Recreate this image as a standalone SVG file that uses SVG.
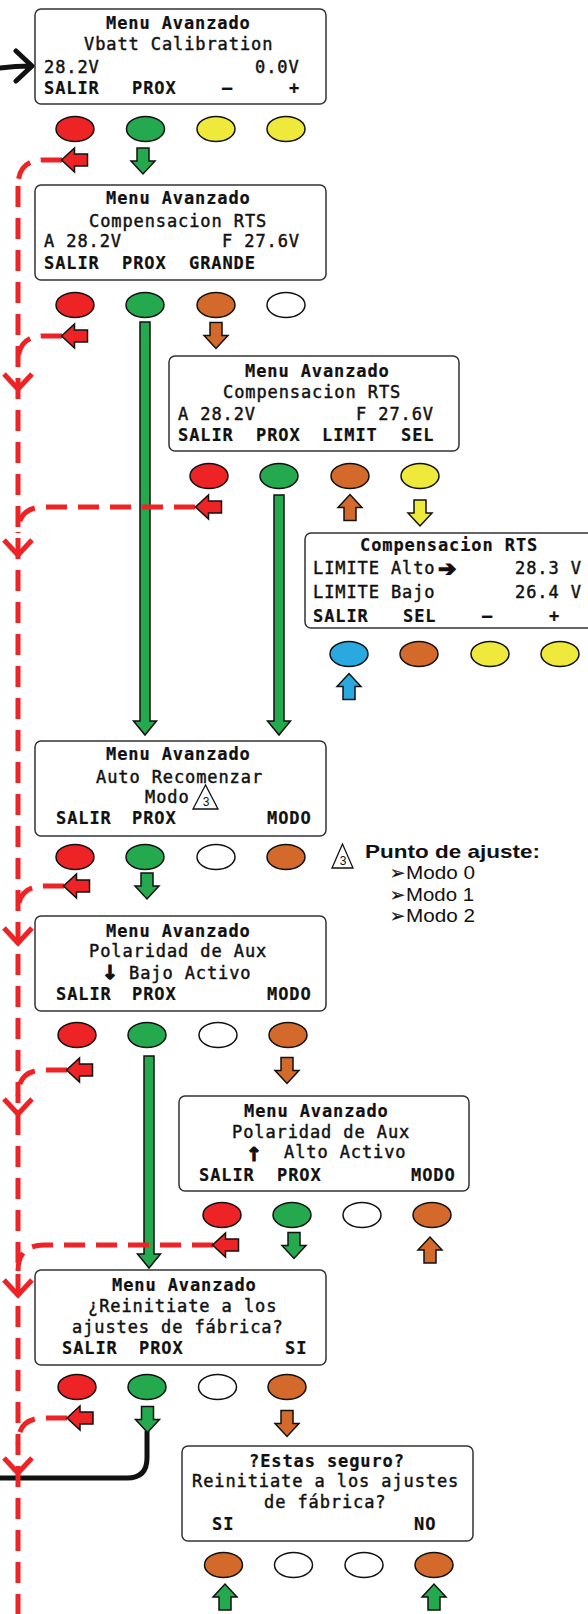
<svg xmlns="http://www.w3.org/2000/svg" width="588" height="1614" viewBox="0 0 588 1614">
<style>
.scr{fill:#fff;stroke:#333;stroke-width:1.5}
.t{font-family:"DejaVu Sans Mono",monospace;font-size:17px;letter-spacing:0.9px;fill:#111;stroke:#111;stroke-width:0.45px}
.b{font-weight:bold;stroke-width:0.2px}
.btn{stroke:#111;stroke-width:1.5}
.r{fill:#EE2326}.g{fill:#24A94F}.y{fill:#EEE93B}.o{fill:#D3692B}.w{fill:#fff}.bl{fill:#29A9E0}
.fa{stroke:#111;stroke-width:1.5}
.dash{fill:none;stroke:#EE2326;stroke-width:5;stroke-dasharray:21 11}
.chev{fill:none;stroke:#EE2326;stroke-width:5}
.blk{fill:none;stroke:#111;stroke-width:5;stroke-linecap:round;stroke-linejoin:round}
.note{font-family:"Liberation Sans",Arial,sans-serif;fill:#111}
.sym{font-family:"DejaVu Sans",sans-serif;font-weight:bold;fill:#111;stroke:#111;stroke-width:1.2px}
.bul{font-family:"DejaVu Sans",sans-serif;fill:#111;stroke:#111;stroke-width:0.3px}
.tri{fill:none;stroke:#111;stroke-width:1.3}
</style>
<defs>
<path id="fd" d="M-6,-13H6V0H12L0,13L-12,0H-6Z"/>
</defs>
<rect width="588" height="1614" fill="#fff"/>

<g id="panel1">
<rect class="scr" x="35" y="9" width="291" height="95" rx="6"/>
<text class="t b" x="106" y="29">Menu Avanzado</text>
<text class="t" x="84" y="50">Vbatt Calibration</text>
<text class="t" x="44" y="73">28.2V</text><text class="t" x="255" y="73">0.0V</text>
<text class="t b" y="94"><tspan x="44">SALIR</tspan><tspan x="132">PROX</tspan><tspan x="222">–</tspan><tspan x="289">+</tspan></text>
<ellipse class="btn r" cx="75" cy="129" rx="19" ry="12.5"/>
<ellipse class="btn g" cx="145.5" cy="129" rx="19" ry="12.5"/>
<ellipse class="btn y" cx="216" cy="129" rx="19" ry="12.5"/>
<ellipse class="btn y" cx="286" cy="129" rx="19" ry="12.5"/>
</g>

<g id="panel2">
<rect class="scr" x="35" y="185" width="291" height="95" rx="6"/>
<text class="t b" x="106" y="204">Menu Avanzado</text>
<text class="t" x="89" y="227">Compensacion RTS</text>
<text class="t" x="44" y="247">A 28.2V</text><text class="t" x="222" y="247">F 27.6V</text>
<text class="t b" y="269"><tspan x="44">SALIR</tspan><tspan x="122">PROX</tspan><tspan x="189">GRANDE</tspan></text>
<ellipse class="btn r" cx="75" cy="305" rx="19" ry="12.5"/>
<ellipse class="btn g" cx="145" cy="305" rx="19" ry="12.5"/>
<ellipse class="btn o" cx="216" cy="305" rx="19" ry="12.5"/>
<ellipse class="btn w" cx="286" cy="305" rx="19" ry="12.5"/>
</g>

<g id="panel3">
<rect class="scr" x="169" y="356" width="290" height="95" rx="6"/>
<text class="t b" x="245" y="377">Menu Avanzado</text>
<text class="t" x="223" y="398">Compensacion RTS</text>
<text class="t" x="178" y="420">A 28.2V</text><text class="t" x="356" y="420">F 27.6V</text>
<text class="t b" y="441"><tspan x="178">SALIR</tspan><tspan x="256">PROX</tspan><tspan x="322">LIMIT</tspan><tspan x="401">SEL</tspan></text>
<ellipse class="btn r" cx="209" cy="476" rx="19" ry="12.5"/>
<ellipse class="btn g" cx="279" cy="476" rx="19" ry="12.5"/>
<ellipse class="btn o" cx="350" cy="476" rx="19" ry="12.5"/>
<ellipse class="btn y" cx="420" cy="476" rx="19" ry="12.5"/>
</g>

<g id="panel4">
<rect class="scr" x="305" y="533" width="300" height="95" rx="6"/>
<text class="t b" x="360" y="551">Compensacion RTS</text>
<text class="t" x="313" y="574">LIMITE Alto</text><text class="sym" x="438" y="576" font-size="22">➔</text><text class="t" x="515" y="574">28.3 V</text>
<text class="t" x="313" y="598">LIMITE Bajo</text><text class="t" x="515" y="598">26.4 V</text>
<text class="t b" y="622"><tspan x="313">SALIR</tspan><tspan x="403">SEL</tspan><tspan x="482">–</tspan><tspan x="549">+</tspan></text>
<ellipse class="btn bl" cx="349" cy="654" rx="19" ry="12.5"/>
<ellipse class="btn o" cx="419" cy="654" rx="19" ry="12.5"/>
<ellipse class="btn y" cx="490" cy="654" rx="19" ry="12.5"/>
<ellipse class="btn y" cx="560" cy="654" rx="19" ry="12.5"/>
</g>

<g id="panel5">
<rect class="scr" x="35" y="741" width="291" height="95" rx="6"/>
<text class="t b" x="106" y="760">Menu Avanzado</text>
<text class="t" x="96" y="783">Auto Recomenzar</text>
<text class="t" x="145" y="803">Modo</text>
<polygon class="tri" points="205.5,785 193,809 218,809"/>
<text class="note" x="206" y="806" font-size="12" text-anchor="middle">3</text>
<text class="t b" y="824"><tspan x="56">SALIR</tspan><tspan x="132">PROX</tspan><tspan x="267">MODO</tspan></text>
<ellipse class="btn r" cx="75" cy="857" rx="19" ry="12.5"/>
<ellipse class="btn g" cx="145" cy="857" rx="19" ry="12.5"/>
<ellipse class="btn w" cx="216" cy="857" rx="19" ry="12.5"/>
<ellipse class="btn o" cx="286" cy="857" rx="19" ry="12.5"/>
</g>

<g id="note">
<polygon class="tri" points="342.5,844 332,868 353,868"/>
<text class="note" x="343" y="865" font-size="12" text-anchor="middle">3</text>
<text class="note" x="365" y="858" font-size="19" font-weight="bold" textLength="175" lengthAdjust="spacingAndGlyphs">Punto de ajuste:</text>
<text class="bul" x="390" y="879" font-size="18">➢</text><text class="note" x="406" y="879" font-size="18" textLength="69" lengthAdjust="spacingAndGlyphs">Modo 0</text>
<text class="bul" x="390" y="901" font-size="18">➢</text><text class="note" x="406" y="901" font-size="18" textLength="68" lengthAdjust="spacingAndGlyphs">Modo 1</text>
<text class="bul" x="390" y="922" font-size="18">➢</text><text class="note" x="406" y="922" font-size="18" textLength="69" lengthAdjust="spacingAndGlyphs">Modo 2</text>
</g>

<g id="panel6">
<rect class="scr" x="35" y="916" width="291" height="95" rx="6"/>
<text class="t b" x="106" y="937">Menu Avanzado</text>
<text class="t" x="89" y="957">Polaridad de Aux</text>
<text class="sym" x="102" y="979" font-size="19">↓</text>
<text class="t" x="129" y="979">Bajo Activo</text>
<text class="t b" y="1000"><tspan x="56">SALIR</tspan><tspan x="132">PROX</tspan><tspan x="267">MODO</tspan></text>
<ellipse class="btn r" cx="77" cy="1035" rx="19" ry="12.5"/>
<ellipse class="btn g" cx="147" cy="1035" rx="19" ry="12.5"/>
<ellipse class="btn w" cx="218" cy="1035" rx="19" ry="12.5"/>
<ellipse class="btn o" cx="288" cy="1035" rx="19" ry="12.5"/>
</g>

<g id="panel7">
<rect class="scr" x="179" y="1096" width="290" height="95" rx="6"/>
<text class="t b" x="244" y="1117">Menu Avanzado</text>
<text class="t" x="232" y="1138">Polaridad de Aux</text>
<text class="sym" x="246" y="1161" font-size="19">↑</text>
<text class="t" x="284" y="1158">Alto Activo</text>
<text class="t b" y="1181"><tspan x="199">SALIR</tspan><tspan x="277">PROX</tspan><tspan x="411">MODO</tspan></text>
<ellipse class="btn r" cx="222" cy="1215" rx="19" ry="12.5"/>
<ellipse class="btn g" cx="292" cy="1215" rx="19" ry="12.5"/>
<ellipse class="btn w" cx="362" cy="1215" rx="19" ry="12.5"/>
<ellipse class="btn o" cx="432" cy="1215" rx="19" ry="12.5"/>
</g>

<g id="panel8">
<rect class="scr" x="35" y="1270" width="291" height="95" rx="6"/>
<text class="t b" x="112" y="1291">Menu Avanzado</text>
<text class="t" x="88" y="1312">¿Reinitiate a los</text>
<text class="t" x="72" y="1333">ajustes de fábrica?</text>
<text class="t b" y="1354"><tspan x="62">SALIR</tspan><tspan x="139">PROX</tspan><tspan x="285">SI</tspan></text>
<ellipse class="btn r" cx="77" cy="1387" rx="19" ry="12.5"/>
<ellipse class="btn g" cx="147" cy="1387" rx="19" ry="12.5"/>
<ellipse class="btn w" cx="217.5" cy="1387" rx="19" ry="12.5"/>
<ellipse class="btn o" cx="287" cy="1387" rx="19" ry="12.5"/>
</g>

<g id="panel9">
<rect class="scr" x="182" y="1446" width="291" height="95" rx="6"/>
<text class="t b" x="249" y="1467">?Estas seguro?</text>
<text class="t" x="192" y="1487">Reinitiate a los ajustes</text>
<text class="t" x="264" y="1508">de fábrica?</text>
<text class="t b" y="1530"><tspan x="212">SI</tspan><tspan x="414">NO</tspan></text>
<ellipse class="btn o" cx="223.5" cy="1565" rx="19" ry="12.5"/>
<ellipse class="btn w" cx="293.5" cy="1565" rx="19" ry="12.5"/>
<ellipse class="btn w" cx="364" cy="1565" rx="19" ry="12.5"/>
<ellipse class="btn o" cx="434" cy="1565" rx="19" ry="12.5"/>
</g>

<g id="connectors">
<path class="blk" d="M0,68 Q15,66 31,66 M16,51 L32,66 L16,81"/>
<path class="blk" d="M147,1432 V1458 Q147,1478 127,1478 H-5"/>
<path class="fa g" d="M140,322 H150 V721 H156.5 L145,735 L133.5,721 H140 Z"/>
<path class="fa g" d="M274,495 H284 V721 H290.5 L279,735 L267.5,721 H274 Z"/>
<path class="fa g" d="M144,1056 H154 V1254 H160.5 L149,1268 L137.5,1254 H144 Z"/>
<use href="#fd" class="fa g" transform="translate(143,161)"/>
<use href="#fd" class="fa o" transform="translate(216,335.5)"/>
<use href="#fd" class="fa o" transform="translate(350,507.5) rotate(180)"/>
<use href="#fd" class="fa y" transform="translate(420,513)"/>
<use href="#fd" class="fa bl" transform="translate(349,686.5) rotate(180)"/>
<use href="#fd" class="fa g" transform="translate(147,886)"/>
<use href="#fd" class="fa o" transform="translate(287,1070.5)"/>
<use href="#fd" class="fa g" transform="translate(294,1245.5)"/>
<use href="#fd" class="fa o" transform="translate(430,1250) rotate(180)"/>
<use href="#fd" class="fa g" transform="translate(147.5,1419.5)"/>
<use href="#fd" class="fa o" transform="translate(287,1423.5)"/>
<use href="#fd" class="fa g" transform="translate(225,1597) rotate(180)"/>
<use href="#fd" class="fa g" transform="translate(434,1597) rotate(180)"/>
<path class="dash" d="M18,186 V1614"/>
<path class="dash" d="M62,160 H44 Q18,160 18,186"/>
<path class="dash" d="M62,336 H44 Q18,336 18,362"/>
<path class="dash" d="M195,507 H44 Q18,507 18,533"/>
<path class="dash" d="M64,886 H44 Q18,886 18,912"/>
<path class="dash" d="M67,1070 H44 Q18,1070 18,1096"/>
<path class="dash" d="M213,1245 H44 Q18,1245 18,1271"/>
<path class="dash" d="M67,1418 H44 Q18,1418 18,1444"/>
<path class="chev" d="M4,374 L18,389 L32,374 M4,540 L18,555 L32,540 M4,928 L18,943 L32,928 M4,1099 L18,1114 L32,1099 M4,1280 L18,1295 L32,1280 M4,1458 L18,1473 L32,1458"/>
<use href="#fd" class="fa r" transform="translate(74.5,160) rotate(90)"/>
<use href="#fd" class="fa r" transform="translate(74.5,336) rotate(90)"/>
<use href="#fd" class="fa r" transform="translate(208.5,507) rotate(90)"/>
<use href="#fd" class="fa r" transform="translate(76.5,886) rotate(90)"/>
<use href="#fd" class="fa r" transform="translate(79.5,1070) rotate(90)"/>
<use href="#fd" class="fa r" transform="translate(225.5,1245) rotate(90)"/>
<use href="#fd" class="fa r" transform="translate(80,1418) rotate(90)"/>
</g>
</svg>
